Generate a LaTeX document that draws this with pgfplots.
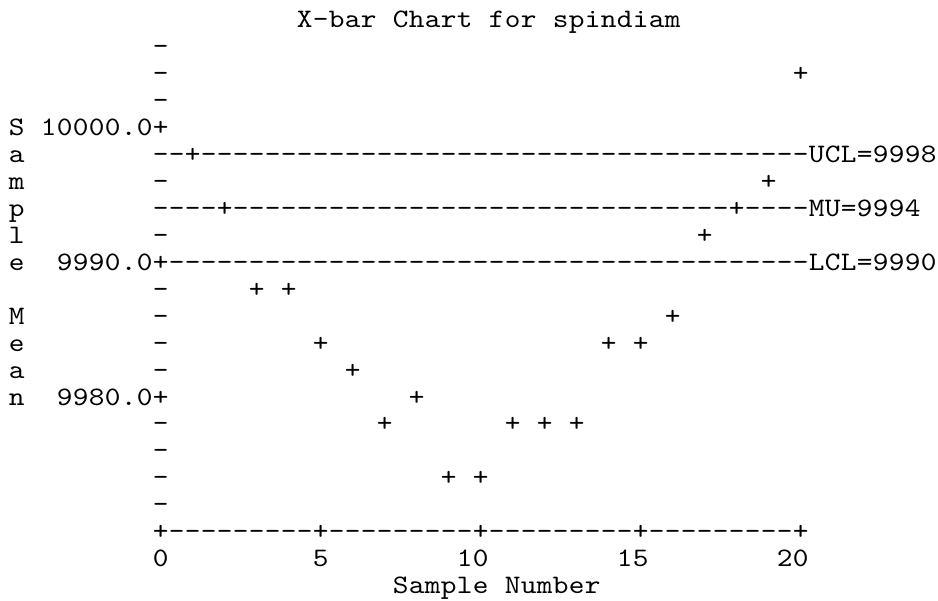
\documentclass[border=0pt]{standalone}
\usepackage{pgfplots}
\pgfplotsset{compat=1.18}
\usepackage{graphicx}
\newcommand\lp{\ttfamily\fontsize{10}{10}\selectfont}
\newcommand\gch[1]{\makebox[6pt]{\scalebox{1.12}[1]{#1}}}
\def\gridA#1{\ifx#1\relax\else\ifx#1!\makebox[6pt]{}\else\gch{#1}\fi\expandafter\gridA\fi}
\newcommand\T[3]{\node[anchor=base west,inner sep=0pt,outer sep=0pt,font=\lp,yshift=-2.8pt] at (axis cs:{#1/2-0.25},#2) {\edef\tmp{#3}\expandafter\gridA\tmp\relax};}
\def\dten{----------}
\begin{document}
\begin{tikzpicture}
\begin{axis}[hide axis, x=12pt, y=5.05pt, scale only axis,
  xmin=-5.022, xmax=24.291, ymin=9964.91, ymax=10009.525, clip=false]
\addplot[color=black, only marks, mark=text, text mark={\gch{+}}, text mark as node=true,
  text mark style={font=\lp, anchor=base, inner sep=0pt, outer sep=0pt, yshift=-2.8pt}]
coordinates {
(1,9998) (2,9994) (3,9988) (4,9988) (5,9984) (6,9982) (7,9978) (8,9980) (9,9974) (10,9974)
(11,9978) (12,9978) (13,9978) (14,9984) (15,9984) (16,9986) (17,9992) (18,9994) (19,9996) (20,10004)
};
% title
\T{9}{10008}{X-bar!Chart!for!spindiam}
% vertical axis
\T{0}{10006}{-}
\T{0}{10004}{-}
\T{0}{10002}{-}
\T{-9}{10000}{S}\T{-7}{10000}{10000.0+}
\T{-9}{9998}{a}\T{0}{9998}{--}\T{3}{9998}{\dten\dten\dten--------UCL=9998}
\T{-9}{9996}{m}\T{0}{9996}{-}
\T{-9}{9994}{p}\T{0}{9994}{----}\T{5}{9994}{\dten\dten\dten-}\T{37}{9994}{----MU=9994}
\T{-9}{9992}{l}\T{0}{9992}{-}
\T{-9}{9990}{e}\T{-6}{9990}{9990.0}\T{0}{9990}{+\dten\dten\dten\dten LCL=9990}
\T{0}{9988}{-}
\T{-9}{9986}{M}\T{0}{9986}{-}
\T{-9}{9984}{e}\T{0}{9984}{-}
\T{-9}{9982}{a}\T{0}{9982}{-}
\T{-9}{9980}{n}\T{-6}{9980}{9980.0+}
\T{0}{9978}{-}
\T{0}{9976}{-}
\T{0}{9974}{-}
\T{0}{9972}{-}
\T{0}{9970}{+---------+---------+---------+---------+}
% x tick labels
\T{0}{9968}{0}\T{10}{9968}{5}\T{19}{9968}{10}\T{29}{9968}{15}\T{39}{9968}{20}
\T{15}{9966}{Sample!Number}
\end{axis}
\pgfresetboundingbox
\path[use as bounding box] (current axis.south west) rectangle (current axis.north east);
\end{tikzpicture}
\end{document}
